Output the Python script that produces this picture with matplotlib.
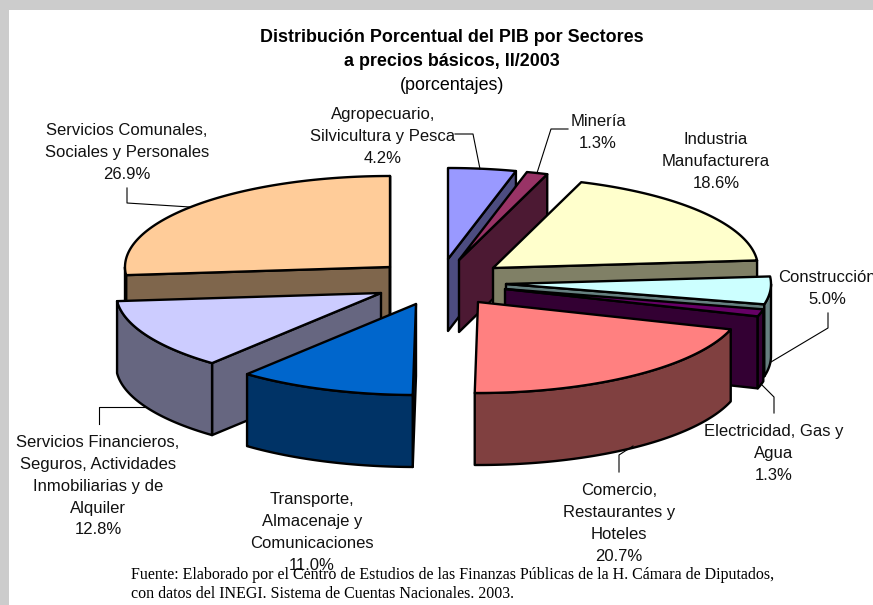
import numpy as np
import matplotlib
matplotlib.use("Agg")
import matplotlib.pyplot as plt
from matplotlib.patches import Polygon, Rectangle

# datos (porcentajes, en el orden del pastel desde las 12 en sentido horario)
sectores = ["Agropecuario", "Mineria", "Industria", "Construccion", "Electricidad",
            "Comercio", "Transporte", "Financieros", "Comunales"]
valores = [4.2, 1.3, 18.6, 5.0, 1.3, 20.7, 11.0, 12.8, 26.9]
etiquetas = [
    "Agropecuario,\nSilvicultura y Pesca\n4.2%",
    "Minería\n1.3%",
    "Industria\nManufacturera\n18.6%",
    "Construcción\n5.0%",
    "Electricidad, Gas y\nAgua\n1.3%",
    "Comercio,\nRestaurantes y\nHoteles\n20.7%",
    "Transporte,\nAlmacenaje y\nComunicaciones\n11.0%",
    "Servicios Financieros,\nSeguros, Actividades\nInmobiliarias y de\nAlquiler\n12.8%",
    "Servicios Comunales,\nSociales y Personales\n26.9%",
]

# estilo
color_top = ["#9999FF", "#993366", "#FFFFCC", "#CCFFFF", "#660066",
             "#FF8080", "#0066CC", "#CCCCFF", "#FFCC99"]
color_side = ["#4C4C80", "#4C1933", "#808066", "#668080", "#330033",
              "#804040", "#003366", "#666680", "#7F664C"]
apex = [(448, 259), (459, 260), (493, 268), (506, 284), (505, 289),
        (478, 302), (416, 304), (381, 293), (390, 267)]
pos_label = [(383, 113), (598, 120), (716, 138), (827, 276), (774, 430),
             (619, 489), (312, 498), (98, 441), (127, 129)]
leaders = [
    [(455, 134), (473, 134), (480, 169)],
    [(568, 129), (551, 129), (537, 173)],
    None,
    [(828, 313), (828, 328), (771, 362)],
    [(774, 413), (774, 397), (761, 384)],
    [(619, 472), (619, 455), (633, 446)],
    None,
    [(99, 424), (99, 407), (145, 407)],
    [(127, 188), (127, 203), (190, 207)],
]
orden = [8, 7, 6, 0, 1, 2, 3, 4, 5]
RX, RY, DEPTH = 265, 91, 72
LW = 1.7

fig = plt.figure(figsize=(8.73, 6.05), dpi=100, facecolor="#CCCCCC")
ax = fig.add_axes([0, 0, 1, 1])
ax.set_xlim(0, 873)
ax.set_ylim(605, 0)
ax.axis("off")
ax.add_patch(Rectangle((9, 10), 870, 600, facecolor="white", edgecolor="none"))

bordes = np.cumsum([0] + valores) / sum(valores) * 360


def rim(cx, cy, t0, t1):
    t = np.radians(np.linspace(t0, t1, 120))
    return np.column_stack([cx + RX * np.sin(t), cy - RY * np.cos(t)])


def wall(points, color):
    low = points[::-1] + [0, DEPTH]
    ax.add_patch(Polygon(np.vstack([points, low]), closed=True, facecolor=color,
                         edgecolor="black", linewidth=LW, joinstyle="round"))


for i in orden:
    cx, cy = apex[i]
    t0, t1 = bordes[i], bordes[i + 1]
    centro = np.array([[cx, cy]], dtype=float)
    # caras radiales visibles, luego la pared exterior
    if np.sin(np.radians(t0)) < 0:
        wall(np.vstack([centro, rim(cx, cy, t0, t0)[:1]]), color_side[i])
    if np.sin(np.radians(t1)) > 0:
        wall(np.vstack([centro, rim(cx, cy, t1, t1)[:1]]), color_side[i])
    a, b = max(t0, 90), min(t1, 270)
    if b > a:
        wall(rim(cx, cy, a, b), color_side[i])
    ax.add_patch(Polygon(np.vstack([centro, rim(cx, cy, t0, t1)]), closed=True,
                         facecolor=color_top[i], edgecolor="black", linewidth=LW,
                         joinstyle="round"))

for i in range(len(valores)):
    if leaders[i]:
        xs, ys = zip(*leaders[i])
        ax.plot(xs, ys, color="black", linewidth=0.8)
    x, y = pos_label[i]
    ax.text(x, y - 6, etiquetas[i], ha="center", va="top", fontsize=12,
            family="Liberation Sans", linespacing=1.57, color="#111111")

ax.text(452, 38, "Distribución Porcentual del PIB por Sectores", ha="center", va="center",
        fontsize=12.9, fontweight="bold", family="Liberation Sans")
ax.text(452, 62, "a precios básicos, II/2003", ha="center", va="center",
        fontsize=12.9, fontweight="bold", family="Liberation Sans")
ax.text(452, 86, "(porcentajes)", ha="center", va="center",
        fontsize=12.9, family="Liberation Sans")

ax.text(131, 575, "Fuente: Elaborado por el Centro de Estudios de las Finanzas Públicas de la H. Cámara de Diputados,",
        ha="left", va="center", fontsize=11.55, family="Liberation Serif")
ax.text(131, 594, "con datos del INEGI. Sistema de Cuentas Nacionales. 2003.",
        ha="left", va="center", fontsize=11.55, family="Liberation Serif")

fig.savefig("out.png", dpi=100, facecolor=fig.get_facecolor())
